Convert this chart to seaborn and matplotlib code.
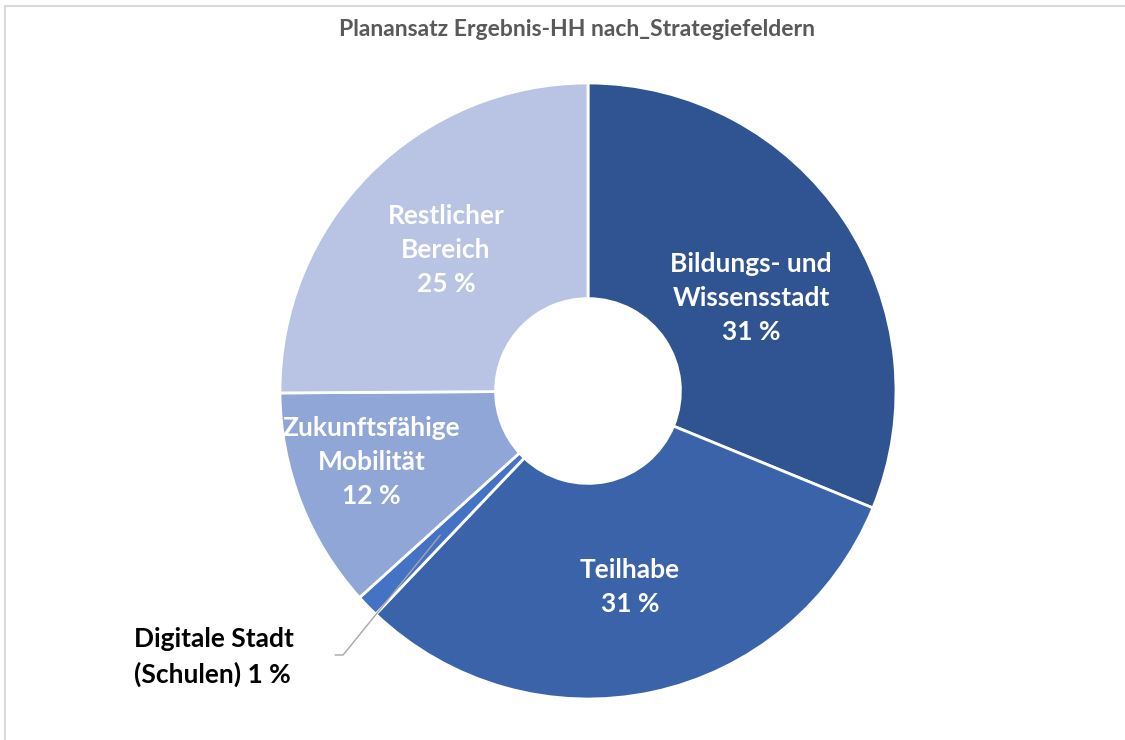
import numpy as np
import seaborn as sns
import matplotlib.pyplot as plt
from matplotlib.lines import Line2D

categories = ["Bildungs- und\nWissensstadt", "Teilhabe", "Digitale Stadt\n(Schulen)",
              "Zukunftsfähige\nMobilität", "Restlicher\nBereich"]
shares = [31.2, 30.9, 1.2, 11.6, 25.1]
colors = ["#2F5491", "#3B63AA", "#4472C4", "#8FA6D6", "#B9C3E3"]
title = "Planansatz Ergebnis-HH nach_Strategiefeldern"

sns.set_theme(style="white")
plt.rcParams["font.family"] = ["Lato", "DejaVu Sans"]

fig = plt.figure(figsize=(11.25, 7.4), dpi=100)
ax = fig.add_axes([0, 0, 1, 1])

wedges, _ = ax.pie(shares, colors=colors, startangle=90, counterclock=False,
                   radius=1.0, wedgeprops=dict(width=0.7, edgecolor="white", linewidth=2))

# label placement per slice: fraction of radius, angle shift from mid-angle (deg)
label_r = [0.61, 0.65, None, 0.74, 0.65]
label_shift = [-4, 0, 0, -3, 0]
for w, cat, val, r, d in zip(wedges, categories, shares, label_r, label_shift):
    if r is None:
        continue
    ang = np.deg2rad((w.theta1 + w.theta2) / 2 + d)
    ax.text(r * np.cos(ang), r * np.sin(ang), f"{cat}\n{round(val):.0f} %",
            ha="center", va="center", color="white", fontsize=19,
            fontweight="bold", linespacing=1.5)

# small slice: leader line and outside label
w = wedges[2]
ang = np.deg2rad((w.theta1 + w.theta2) / 2)
x0, y0 = 0.67 * np.cos(ang), 0.67 * np.sin(ang)
ax.plot([x0, -0.795, -0.821], [y0, -0.857, -0.857], color="#A6A6A6", lw=1)
ax.text(-1.474, -0.864, f"Digitale Stadt\n(Schulen) {round(shares[2]):.0f} %",
        ha="left", va="center", color="black", fontsize=19, fontweight="bold",
        linespacing=1.5)

# axes in units of pie radius, centre at pixel (588, 391), r = 308 px
ax.set_xlim(-588 / 308, (1125 - 588) / 308)
ax.set_ylim(-(740 - 391) / 308, 391 / 308)
ax.axis("off")

fig.text(577 / 1125, 1 - 30 / 740, title, ha="center", va="center",
         fontsize=16.5, fontweight="bold", color="#595959")

# chart frame (top and left edges visible)
fig.add_artist(Line2D([5 / 1125, 1], [1 - 6 / 740, 1 - 6 / 740], color="#D9D9D9", lw=1.5))
fig.add_artist(Line2D([5 / 1125, 5 / 1125], [0, 1 - 6 / 740], color="#D9D9D9", lw=1.5))

fig.savefig("out.png", dpi=100)
